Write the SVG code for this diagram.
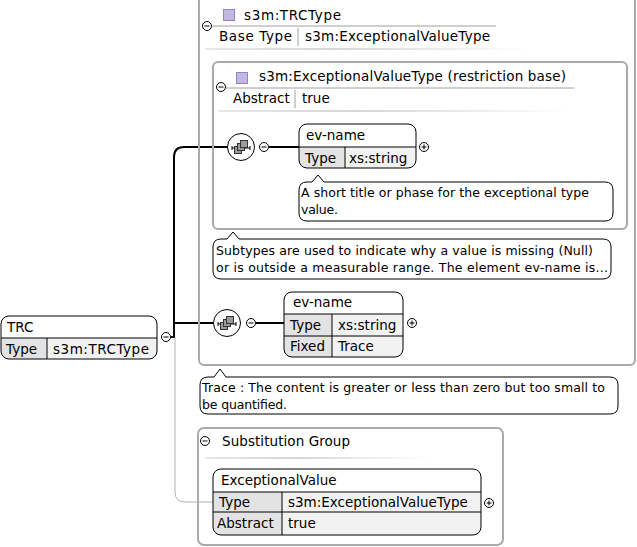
<svg xmlns="http://www.w3.org/2000/svg" width="637" height="547" viewBox="0 0 637 547">
<style>
text{font-family:"DejaVu Sans","Liberation Sans",sans-serif;font-size:13.5px;fill:#000}
text.tt{font-size:12.5px}
.frame{fill:none;stroke:#aaaaaa;stroke-width:2}
.hline{stroke:#a0a0a0;stroke-width:1}
.el{fill:none;stroke:#000;stroke-width:1}
.lab{fill:#e3e3e3}
.val{fill:#f2f2f2}
.cell{stroke:#000;stroke-width:1}
.tip{fill:#fff;stroke:#000;stroke-width:1}
.conn{fill:none;stroke:#000;stroke-width:2}
.thin{fill:none;stroke:#b0b0b0;stroke-width:1}
.sym{fill:#fff;stroke:#000;stroke-width:1}
.icon{fill:#c3b8e2;stroke:#9486c4;stroke-width:1}
.seqsq{fill:#9a9a9a;stroke:#333;stroke-width:1}
</style>
<defs>
<linearGradient id="fade" x1="0" y1="0" x2="1" y2="0">
<stop offset="0" stop-color="#e8e8e8"/>
<stop offset="0.4" stop-color="#d6d6d6"/>
<stop offset="1" stop-color="#ffffff"/>
</linearGradient>
<clipPath id="cA"><rect x="1" y="316" width="156" height="43" rx="8"/></clipPath>
<clipPath id="cB"><rect x="299" y="124" width="117" height="44" rx="8"/></clipPath>
<clipPath id="cC"><rect x="284" y="292" width="119" height="65" rx="8"/></clipPath>
<clipPath id="cD"><rect x="213" y="469" width="268" height="66" rx="8"/></clipPath>
<g id="minus"><circle r="4.5" class="sym"/><line x1="-2.5" y1="0" x2="2.5" y2="0" stroke="#000"/></g>
<g id="plus"><circle r="4.5" class="sym"/><line x1="-2.5" y1="0" x2="2.5" y2="0" stroke="#000"/><line x1="0" y1="-2.5" x2="0" y2="2.5" stroke="#000"/></g>
<g id="seq"><circle r="13.5" class="sym"/><line x1="-9" y1="1" x2="9" y2="1" stroke="#000"/><line x1="-9" y1="-1" x2="-9" y2="3" stroke="#000"/><line x1="9" y1="-1" x2="9" y2="3" stroke="#000"/><rect x="-6.5" y="-0.5" width="7" height="7" class="seqsq"/><rect x="-3.5" y="-3.5" width="7" height="7" class="seqsq"/><rect x="-0.5" y="-6.5" width="7" height="7" class="seqsq"/></g>
</defs>

<g id="connectors">
<path class="thin" d="M175,337 L175,492 Q175,502 185,502 L213,502"/>
<path class="conn" d="M170,337 L174,337 L174,157 Q174,147 184,147 L228,147"/>
<path class="conn" d="M174,323 L213,323"/>
<path class="conn" d="M269,147 L299,147"/>
<path class="conn" d="M256,323 L284,323"/>
</g>

<g id="trctype">
<rect class="frame" x="199" y="-10" width="436" height="375" rx="5"/>
<line class="hline" x1="212" y1="26" x2="496" y2="26"/>
<rect class="icon" x="223.5" y="9.5" width="11" height="11"/>
<text x="244" y="20" textLength="97">s3m:TRCType</text>
<text x="219" y="41" textLength="73">Base Type</text>
<line class="hline" x1="298" y1="28" x2="298" y2="46"/>
<text x="305" y="41" textLength="185">s3m:ExceptionalValueType</text>
<rect x="205" y="48" width="325" height="2" fill="url(#fade)"/>
<use href="#minus" x="207" y="26"/>
</g>

<g id="restriction">
<rect class="frame" x="213" y="62" width="414" height="167" rx="5"/>
<line class="hline" x1="226" y1="88" x2="574" y2="88"/>
<rect class="icon" x="236.5" y="72.5" width="11" height="11"/>
<text x="259" y="81" textLength="307">s3m:ExceptionalValueType (restriction base)</text>
<text x="233" y="103">Abstract</text>
<line class="hline" x1="295" y1="90" x2="295" y2="108"/>
<text x="302" y="103">true</text>
<rect x="218" y="110" width="352" height="2" fill="url(#fade)"/>
<use href="#minus" x="221" y="87"/>
</g>

<g id="seq1"><use href="#seq" x="241" y="147"/><use href="#minus" x="264" y="147"/></g>

<g id="evname1">
<g clip-path="url(#cB)">
<rect class="lab" x="299" y="147" width="46" height="21"/>
<rect class="val" x="345" y="147" width="71" height="21"/>
</g>
<line class="cell" x1="299" y1="147" x2="416" y2="147"/>
<line class="cell" x1="345" y1="147" x2="345" y2="168"/>
<rect class="el" x="299" y="124" width="117" height="44" rx="8"/>
<text x="306" y="140">ev-name</text>
<text x="305" y="163">Type</text>
<text x="349" y="163">xs:string</text>
<use href="#plus" x="424" y="147"/>
</g>

<g id="tip1">
<path class="tip" d="M307,182 L312,182 L318,175 L324,182 L605,182 Q613,182 613,190 L613,213 Q613,221 605,221 L307,221 Q299,221 299,213 L299,190 Q299,182 307,182 Z"/>
<text class="tt" x="301" y="197" textLength="288">A short title or phase for the exceptional type</text>
<text class="tt" x="301" y="214" textLength="37">value.</text>
</g>

<g id="tip2">
<path class="tip" d="M221,239 L227,239 L233,232 L239,239 L603,239 Q611,239 611,247 L611,271 Q611,279 603,279 L221,279 Q213,279 213,271 L213,247 Q213,239 221,239 Z"/>
<text class="tt" x="216" y="255" textLength="377">Subtypes are used to indicate why a value is missing (Null)</text>
<text class="tt" x="216" y="272" textLength="392">or is outside a measurable range. The element ev-name is...</text>
</g>

<g id="trc">
<g clip-path="url(#cA)">
<rect class="lab" x="1" y="338" width="46" height="21"/>
<rect class="val" x="47" y="338" width="110" height="21"/>
</g>
<line class="cell" x1="1" y1="338" x2="157" y2="338"/>
<line class="cell" x1="47" y1="338" x2="47" y2="359"/>
<rect class="el" x="1" y="316" width="156" height="43" rx="8"/>
<text x="7" y="332">TRC</text>
<text x="6" y="354">Type</text>
<text x="53" y="354" textLength="96">s3m:TRCType</text>
<use href="#minus" x="166" y="337"/>
</g>

<g id="seq2"><use href="#seq" x="227" y="323"/><use href="#minus" x="251" y="323"/></g>

<g id="evname2">
<g clip-path="url(#cC)">
<rect class="lab" x="284" y="314" width="48" height="43"/>
<rect class="val" x="332" y="314" width="71" height="43"/>
</g>
<line class="cell" x1="284" y1="314" x2="403" y2="314"/>
<line class="cell" x1="284" y1="336" x2="403" y2="336"/>
<line class="cell" x1="332" y1="314" x2="332" y2="357"/>
<rect class="el" x="284" y="292" width="119" height="65" rx="8"/>
<text x="293" y="307">ev-name</text>
<text x="290" y="330">Type</text>
<text x="338" y="330">xs:string</text>
<text x="290" y="351">Fixed</text>
<text x="338" y="351">Trace</text>
<use href="#plus" x="412" y="323"/>
</g>

<g id="tip3">
<path class="tip" d="M208,377 L214,377 L220,369 L226,377 L610,377 Q618,377 618,385 L618,406 Q618,414 610,414 L208,414 Q200,414 200,406 L200,385 Q200,377 208,377 Z"/>
<text class="tt" x="202" y="392" textLength="403">Trace : The content is greater or less than zero but too small to</text>
<text class="tt" x="202" y="409" textLength="85">be quantified.</text>
</g>

<g id="substgroup">
<rect class="frame" x="198" y="428" width="305" height="117" rx="6"/>
<use href="#minus" x="205" y="441"/>
<text x="222" y="446" textLength="128">Substitution Group</text>
<rect x="205" y="457" width="225" height="2" fill="url(#fade)"/>
</g>

<g id="exceptionalvalue">
<g clip-path="url(#cD)">
<rect class="lab" x="213" y="492" width="69" height="43"/>
<rect class="val" x="282" y="492" width="199" height="43"/>
</g>
<line class="cell" x1="213" y1="492" x2="481" y2="492"/>
<line class="cell" x1="213" y1="512" x2="481" y2="512"/>
<line class="cell" x1="282" y1="492" x2="282" y2="535"/>
<rect class="el" x="213" y="469" width="268" height="66" rx="8"/>
<text x="221" y="485">ExceptionalValue</text>
<text x="219" y="507">Type</text>
<text x="288" y="507">s3m:ExceptionalValueType</text>
<text x="217" y="528">Abstract</text>
<text x="288" y="528">true</text>
<use href="#plus" x="489" y="503"/>
</g>
</svg>
